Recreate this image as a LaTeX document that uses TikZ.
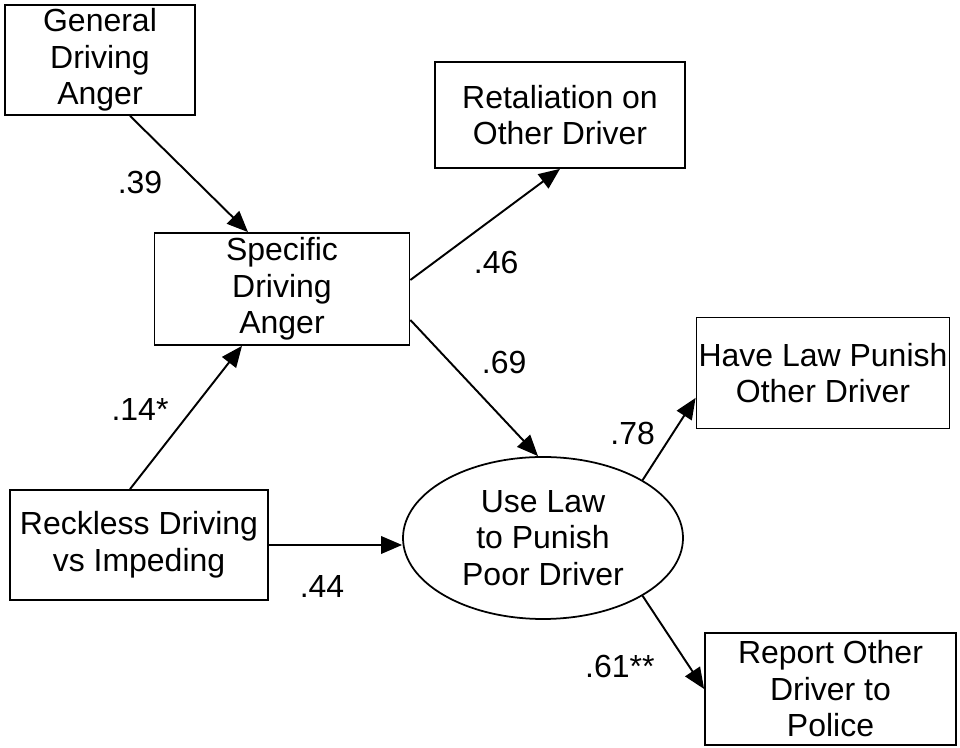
\documentclass[tikz,border=0pt]{standalone}
\usepackage{fontspec}
\setmainfont{Liberation Sans}
\usetikzlibrary{arrows.meta,shapes.geometric}

\begin{document}
\begin{tikzpicture}[->,>={Triangle[length=12pt,width=10pt]},line width=1.1pt,
                    every node/.style={font=\fontsize{18.2}{20.8}\selectfont},
                    var/.style={draw,rectangle,align=center,inner sep=0pt,line width=1pt},
                    latent/.style={draw,ellipse,align=center,inner sep=0pt,line width=1pt}]
 \useasboundingbox (0,0) rectangle (19.2,14.96);

 \node[var,minimum width=3.8cm,minimum height=2.2cm] (gen) at (2.0,13.76) {General\\Driving\\Anger};
 \node[var,minimum width=5.0cm,minimum height=2.12cm] (ret) at (11.2,12.66) {Retaliation on\\Other Driver};
 \node[var,minimum width=5.1cm,minimum height=2.24cm] (spec) at (5.64,9.18) {Specific\\Driving\\Anger};
 \node[var,minimum width=5.06cm,minimum height=2.22cm] (have) at (16.46,7.5) {Have Law Punish\\Other Driver};
 \node[var,minimum width=5.16cm,minimum height=2.2cm] (reck) at (2.78,4.06) {Reckless Driving\\vs Impeding};
 \node[latent,minimum width=5.6cm,minimum height=3.24cm] (use) at (10.86,4.2) {Use Law\\to Punish\\Poor Driver};
 \node[var,minimum width=5.02cm,minimum height=2.24cm] (rep) at (16.61,1.18) {Report Other\\Driver to\\Police};

 \path ([xshift=0.6cm]gen.south) edge node[name=l39,shift={(-0.98,-0.17)}] {.39} ([xshift=-0.68cm]spec.north)
       ([xshift=-0.18cm]reck.north) edge node[name=l14,shift={(-0.92,0.15)}] {.14*} ([xshift=-0.8cm]spec.south)
       ([yshift=0.18cm]spec.east) edge node[name=l46,shift={(0.22,-0.76)}] {.46} (ret.south)
       ([yshift=-0.62cm]spec.east) edge node[name=l69,shift={(0.6,0.51)}] {.69} ([xshift=-0.1cm]use.north)
       (reck.east) edge node[name=l44,shift={(-0.27,-0.84)}] {.44} (reck.east -| use.west)
       (use.north east) edge node[name=l78,shift={(-0.73,0.1)}] {.78} ([yshift=0.63cm]have.south west)
       (use.south east) edge node[name=l61,shift={(-1.07,-0.48)}] {.61**} (rep.west);

\end{tikzpicture}
\end{document}
